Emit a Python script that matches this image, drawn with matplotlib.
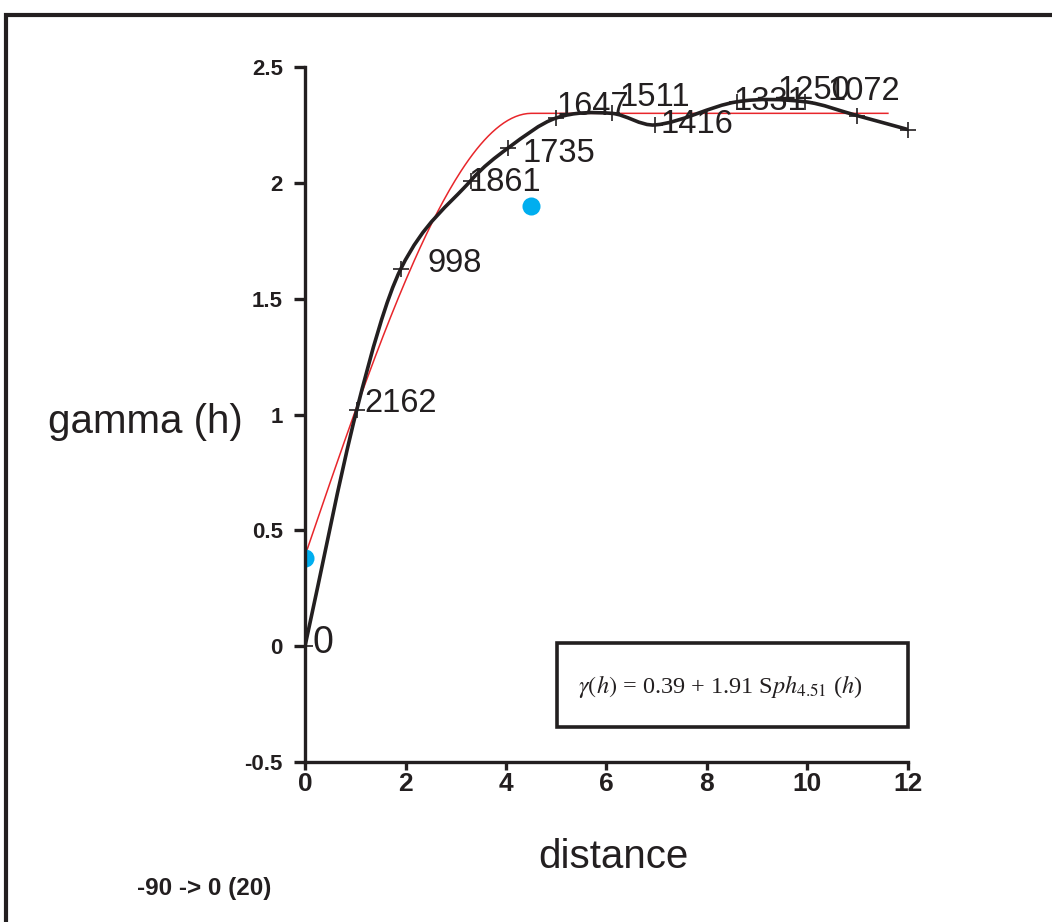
import numpy as np
import matplotlib
matplotlib.use("Agg")
import matplotlib.pyplot as plt
from matplotlib.path import Path
from matplotlib.patches import PathPatch, Rectangle

# experimental variogram: lag distance, semivariance, number of pairs
lag = [0.0, 1.03, 1.91, 3.3, 4.04, 5.0, 6.1, 6.97, 8.6, 9.95, 10.99, 12.0]
gam = [0.0, 1.02, 1.63, 2.01, 2.15, 2.28, 2.30, 2.25, 2.35, 2.35, 2.29, 2.23]
pairs = ["0", "2162", "998", "1861", "1735", "1647", "1511", "1416", "1331", "1250", "1072", ""]

# fitted spherical model (from the box text)
nugget = 0.39
sill = 1.91
rng = 4.51
h_max = 11.6

# highlighted points
dot_x = [0.0, 4.5]
dot_y = [0.38, 1.90]

xticks = [0, 2, 4, 6, 8, 10, 12]
yticks = [-0.5, 0, 0.5, 1, 1.5, 2, 2.5]
ytick_labels = ["-0.5", "0", "0.5", "1", "1.5", "2", "2.5"]

# label offsets in pixels (style only)
lab_dx = [8, 8, 27, -2, 14, 0, 8, 5, -4, -27, -30, 0]
lab_dy = [3, 6, 5, -2, -5, 11, 16, 0, 0, 11, 24, 0]

ink = "#231f20"
sans = ["Liberation Sans", "DejaVu Sans"]
narrow = ["Liberation Sans Narrow", "Liberation Sans", "DejaVu Sans"]

fig = plt.figure(figsize=(10.52, 9.22), dpi=100)
ax = fig.add_axes([305/1052, 1-762/922, 603/1052, 695/922])

# outer frame
fig.patches.append(Rectangle((6/1052, -0.2), 1.2, 1.2 - 15/922, transform=fig.transFigure,
                             fill=False, lw=3, ec=ink, zorder=0))

# smooth curve through the experimental points (cubic hermite in x, drawn as bezier)
x = np.array(lag)
y = np.array(gam)
n = len(x)
m = np.zeros(n)
m[0] = (y[1] - y[0]) / (x[1] - x[0])
m[-1] = (y[-1] - y[-2]) / (x[-1] - x[-2])
for i in range(1, n - 1):
    m[i] = (y[i+1] - y[i-1]) / (x[i+1] - x[i-1])
verts = [(x[0], y[0])]
codes = [Path.MOVETO]
for i in range(n - 1):
    d = (x[i+1] - x[i]) / 3
    verts += [(x[i] + d, y[i] + m[i] * d), (x[i+1] - d, y[i+1] - m[i+1] * d), (x[i+1], y[i+1])]
    codes += [Path.CURVE4] * 3
ax.add_patch(PathPatch(Path(verts, codes), fill=False, ec=ink, lw=2.6, zorder=3,
                       capstyle="round", joinstyle="round"))

# spherical model
h = np.linspace(0, h_max, 300)
hr = np.clip(h / rng, 0, 1)
model = nugget + sill * (1.5 * hr - 0.5 * hr**3)
ax.plot(h, model, color="#e8262b", lw=1.1, zorder=2)

ax.plot(lag, gam, ls="none", marker="+", ms=11, mew=1.2, color=ink, zorder=4, clip_on=False)
ax.plot(dot_x, dot_y, ls="none", marker="o", ms=13, color="#00aeef", mec="none", zorder=2)

for xx, yy, t, dx, dy in zip(lag, gam, pairs, lab_dx, lab_dy):
    fs = 27 if t == "0" else 23.5
    ax.annotate(t, (xx, yy), xytext=(dx, dy), textcoords="offset pixels", ha="left", va="center",
                fontsize=fs, color=ink, family=sans, zorder=5, annotation_clip=False)

ax.set_xlim(0, 12)
ax.set_ylim(-0.5, 2.5)
for s in ["top", "right"]:
    ax.spines[s].set_visible(False)
for s in ["left", "bottom"]:
    ax.spines[s].set_linewidth(2.4)
    ax.spines[s].set_color(ink)
    ax.spines[s].set_zorder(6)

ax.set_xticks(xticks)
ax.set_xticklabels([str(v) for v in xticks], fontsize=19, fontweight="bold", family=narrow, color=ink)
ax.set_yticks(yticks)
ax.set_yticklabels(ytick_labels, fontsize=16, fontweight="bold", family=sans, color=ink)
ax.tick_params(axis="both", direction="out", width=2.4, color=ink)
ax.tick_params(axis="x", length=6, pad=1)
ax.tick_params(axis="y", length=8, pad=8)

ax.set_ylabel("gamma (h)", rotation=0, ha="right", va="center", fontsize=29, family=sans, color=ink)
ax.yaxis.set_label_coords(-0.103, 0.489)
ax.set_xlabel("distance", fontsize=29, family=sans, color=ink, va="center")
ax.xaxis.set_label_coords(0.511, -0.137)

# model box
ax.add_patch(Rectangle((0.418, 0.05), 0.582, 0.121, transform=ax.transAxes, fill=False,
                       lw=2.6, ec=ink, zorder=6, clip_on=False))
plt.rcParams["mathtext.fontset"] = "stix"
ax.text(0.453, 0.109, r"$\gamma(h)$ = 0.39 + 1.91 S$ph_{4.51}$ ($h$)", transform=ax.transAxes,
        ha="left", va="center", fontsize=17.5, family="Liberation Serif", color=ink)

fig.text(137/1052, 1-888/922, "-90 -> 0 (20)", ha="left", va="center", fontsize=17.5,
         fontweight="bold", family=narrow, color=ink)

fig.savefig("out.png", dpi=100)
